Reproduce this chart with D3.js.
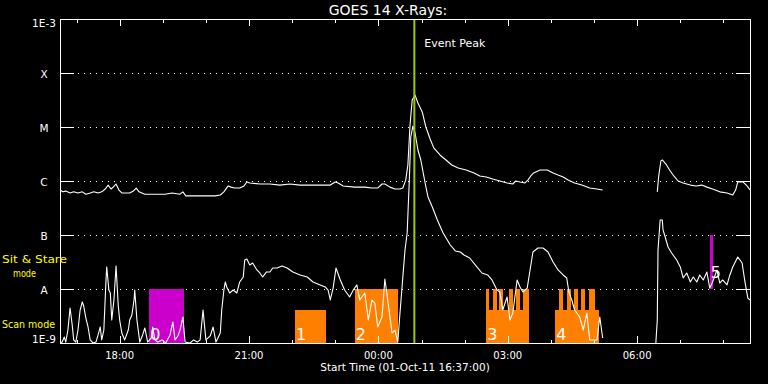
<!DOCTYPE html>
<html><head><meta charset="utf-8">
<script src="https://cdn.jsdelivr.net/npm/d3@7"></script>
<style>html,body{margin:0;padding:0;background:#000;} svg{display:block} text{-webkit-font-smoothing:antialiased;}</style>
</head><body>
<svg id="c" width="768" height="384"></svg>
<script>
// ---------- data ----------
const titleText = "GOES 14 X-Rays:";
const startLabel = "Start Time (01-Oct-11 16:37:00)";
const timeStart = "16:37";
const timeEnd = "08:37";
const fluxTicks = [1e-9, 1e-8, 1e-7, 1e-6, 1e-5, 1e-4, 1e-3];
const fluxTickLabels = ["1E-9", "A", "B", "C", "M", "X", "1E-3"];
const eventPeak = "00:50";
const eventLabel = "Event Peak";
const modeLabels = ["Sit & Stare", "mode", "Scan mode"];

// long channel (1-8 A), [time, flux W/m^2]; null = data gap
const longChannel = [
["16:37",6.8e-7],["16:41",6.3e-7],["16:45",6.5e-7],["16:51",6.0e-7],["16:56",6.3e-7],["17:02",6.0e-7],["17:08",6.3e-7],["17:13",5.7e-7],["17:19",6.0e-7],["17:24",6.3e-7],
["17:30",6.0e-7],["17:35",6.3e-7],["17:40",7.1e-7],["17:44",8.4e-7],["17:48",7.1e-7],["17:51",7.7e-7],["17:55",8.8e-7],["17:59",6.8e-7],["18:03",6.0e-7],["18:09",6.0e-7],
["18:14",6.0e-7],["18:19",6.5e-7],["18:23",7.4e-7],["18:27",6.3e-7],["18:35",5.7e-7],["18:49",5.7e-7],["19:03",5.7e-7],["19:13",6.0e-7],["19:24",5.7e-7],["19:28",6.3e-7],
["19:32",5.3e-7],["19:45",5.3e-7],["19:59",5.3e-7],["20:13",5.3e-7],["20:20",5.5e-7],["20:25",6.3e-7],["20:31",8.1e-7],["20:35",7.7e-7],["20:40",7.4e-7],["20:47",7.4e-7],
["20:53",8.1e-7],["20:57",9.6e-7],["21:01",9.2e-7],["21:15",8.8e-7],["21:29",8.8e-7],["21:43",8.4e-7],["21:57",8.8e-7],["22:11",8.4e-7],["22:25",8.4e-7],["22:39",8.4e-7],
["22:53",8.4e-7],["23:00",9.6e-7],["23:04",9.2e-7],["23:11",8.1e-7],["23:27",7.7e-7],["23:41",7.7e-7],["23:51",7.4e-7],["23:59",7.4e-7],["00:05",8.8e-7],["00:09",8.8e-7],
["00:16",7.7e-7],["00:23",7.1e-7],["00:30",7.1e-7],["00:34",7.4e-7],["00:38",1.04e-6],["00:41",1.98e-6],["00:44",1.09e-5],["00:47",3.16e-5],["00:51",3.9e-5],["00:55",2.78e-5],
["01:01",1.9e-5],["01:06",1.0e-5],["01:12",6.0e-6],["01:17",4.1e-6],["01:26",3.0e-6],["01:34",2.45e-6],["01:42",1.98e-6],["01:51",1.74e-6],["02:02",1.6e-6],["02:13",1.41e-6],
["02:21",1.24e-6],["02:30",1.19e-6],["02:39",1.09e-6],["02:49",1.0e-6],["02:59",9.2e-7],["03:07",8.8e-7],["03:11",1.0e-6],["03:17",9.6e-7],["03:24",9.2e-7],["03:28",1.04e-6],
["03:32",1.24e-6],["03:36",1.41e-6],["03:45",1.6e-6],["03:55",1.6e-6],["04:03",1.41e-6],["04:10",1.29e-6],["04:17",1.19e-6],["04:24",1.04e-6],["04:33",9.2e-7],["04:43",8.4e-7],
["04:54",7.4e-7],["05:04",7.1e-7],["05:12",6.8e-7],["05:50",null],["06:28",6.3e-7],["06:30",1.24e-6],["06:33",2.35e-6],["06:35",2.45e-6],["06:40",2.06e-6],["06:46",1.53e-6],
["06:51",1.24e-6],["06:57",1.0e-6],["07:04",9.2e-7],["07:14",8.4e-7],["07:22",8.1e-7],["07:30",8.4e-7],["07:37",7.7e-7],["07:45",7.1e-7],["07:55",6.3e-7],["08:05",6.0e-7],
["08:13",5.5e-7],["08:17",6.8e-7],["08:20",9.6e-7],["08:27",9.6e-7],["08:33",8.1e-7],["08:37",6.8e-7]
];

// short channel (0.5-4 A)
const shortChannel = [
["16:37",1.0e-9],["16:40",1.04e-9],["16:43",1.29e-9],["16:45",1.04e-9],["16:48",1.74e-9],["16:51",4.45e-9],["16:54",2.15e-9],["16:56",1.14e-9],["16:59",1.04e-9],["17:02",1.74e-9],
["17:05",4.08e-9],["17:08",5.75e-9],["17:10",4.84e-9],["17:13",2.9e-9],["17:16",1.98e-9],["17:19",1.14e-9],["17:23",1.0e-9],["17:27",1.04e-9],["17:30",1.41e-9],["17:33",1.98e-9],
["17:35",1.14e-9],["17:38",1.74e-9],["17:41",1.47e-8],["17:42",2.56e-8],["17:45",9.58e-9],["17:47",8.43e-9],["17:49",2.67e-9],["17:52",6.26e-9],["17:55",2.67e-8],["17:58",5.05e-9],
["18:00",2.67e-9],["18:03",1.53e-9],["18:07",1.14e-9],["18:12",1.74e-9],["18:14",2.67e-9],["18:17",3.3e-9],["18:20",6.26e-9],["18:21",9.58e-9],["18:24",2.67e-9],["18:28",1.04e-9],
["18:32",1.41e-9],["18:35",1.9e-9],["18:39",1.04e-9],["18:44",1.24e-9],["18:46",1.98e-9],["18:49",1.14e-9],["18:53",1.04e-9],["18:59",1.14e-9],["19:04",1.0e-9],["19:10",1.41e-9],
["19:14",2.45e-9],["19:17",1.14e-9],["19:21",1.35e-9],["19:24",1.74e-9],["19:28",3.03e-9],["19:31",1.04e-9],["19:38",1.0e-9],["19:43",1.14e-9],["19:48",1.04e-9],["19:52",1.14e-9],
["19:56",4.08e-9],["20:00",1.14e-9],["20:06",1.35e-9],["20:10",1.98e-9],["20:14",1.04e-9],["20:20",1.53e-9],["20:22",4.08e-9],["20:25",9.58e-9],["20:27",1.35e-8],["20:29",1.09e-8],
["20:33",8.43e-9],["20:38",9.58e-9],["20:43",8.43e-9],["20:47",1.35e-8],["20:52",1.67e-8],["20:54",3.44e-8],["20:57",3.59e-8],["21:01",2.78e-8],["21:05",3.03e-8],["21:11",2.25e-8],
["21:15",1.98e-8],["21:19",1.67e-8],["21:24",2.06e-8],["21:29",2.06e-8],["21:33",2.45e-8],["21:39",2.45e-8],["21:46",2.67e-8],["21:53",2.45e-8],["22:01",2.06e-8],["22:11",1.82e-8],
["22:21",1.67e-8],["22:29",1.35e-8],["22:39",1.19e-8],["22:46",1.09e-8],["22:50",9.58e-9],["22:53",6.26e-9],["22:57",1.04e-8],["23:01",2.45e-8],["23:07",1.47e-8],["23:13",9.58e-9],
["23:20",7.1e-9],["23:25",9.58e-9],["23:30",1.19e-8],["23:34",6.26e-9],["23:41",8.43e-9],["23:46",2.67e-9],["23:51",6.26e-9],["23:55",5.5e-9],["23:59",1.98e-9],["00:05",3.03e-9],
["00:09",1.53e-8],["00:13",6.26e-9],["00:19",1.53e-9],["00:23",1.74e-9],["00:27",1.04e-9],["00:30",3.59e-9],["00:34",1.67e-8],["00:37",5.28e-8],["00:40",1.09e-7],["00:43",1.04e-6],
["00:45",6.53e-6],["00:48",1.04e-5],["00:51",7.74e-6],["00:55",3.75e-6],["00:59",2.45e-6],["01:05",9.18e-7],["01:09",5.06e-7],["01:15",3.3e-7],["01:22",1.9e-7],["01:30",1.09e-7],
["01:40",6.53e-8],["01:47",5.06e-8],["01:54",4.84e-8],["01:59",4.26e-8],["02:07",3.75e-8],["02:17",2.56e-8],["02:24",1.98e-8],["02:32",1.82e-8],["02:38",1.47e-8],["02:45",9.58e-9],
["02:49",8.8e-9],["02:53",4.08e-9],["02:59",7.1e-9],["03:03",2.67e-9],["03:07",3.59e-9],["03:13",1.47e-8],["03:17",1.09e-8],["03:21",8.8e-9],["03:27",1.04e-8],["03:31",2.25e-8],
["03:35",4.84e-8],["03:42",5.75e-8],["03:49",5.75e-8],["03:56",4.84e-8],["04:03",3.16e-8],["04:10",2.25e-8],["04:17",1.82e-8],["04:22",1.6e-8],["04:25",8.8e-9],["04:29",6.26e-9],
["04:33",4.08e-9],["04:40",3.03e-9],["04:45",1.74e-9],["04:50",3.59e-9],["04:54",1.14e-9],["05:04",1.14e-9],["05:08",3.03e-9],["05:12",1.24e-9],["05:50",null],["06:26",1.0e-9],
["06:28",2.67e-9],["06:29",5.28e-8],["06:32",1.9e-7],["06:35",1.9e-7],["06:36",1.24e-7],["06:39",9.18e-8],["06:43",6.0e-8],["06:48",4.64e-8],["06:55",3.44e-8],["07:00",2.56e-8],
["07:04",1.6e-8],["07:09",1.98e-8],["07:14",1.35e-8],["07:18",1.67e-8],["07:23",1.35e-8],["07:27",1.82e-8],["07:32",1.47e-8],["07:37",2.06e-8],["07:41",1.04e-8],["07:45",1.35e-8],
["07:51",2.25e-8],["07:55",1.29e-8],["07:59",1.47e-8],["08:05",1.19e-8],["08:09",1.82e-8],["08:13",2.56e-8],["08:20",3.91e-8],["08:26",3.03e-8],["08:30",1.35e-8],["08:34",6.8e-9],
["08:37",6.26e-9]
];

// observing-mode blocks
const blockLabels = ["0", "1", "2", "3", "4", "5"];
const blockKinds  = ["sit", "scan", "scan", "scan", "scan", "sit"];
const blockStart  = ["18:41", "22:04", "23:27", "02:30", "04:06", "07:41"];
const blockEnd    = ["19:30", "22:47", "00:27", "03:30", "05:07", "07:45"];
const blockTop    = [1e-8, 4.1e-9, 1e-8, 4.1e-9, 4.1e-9, 1e-7];
const blockBase   = [1e-9, 1e-9, 1e-9, 1e-9, 1e-9, 1e-8];
// short high-level segments inside blocks 3 and 4
const toothStart = ["02:30","02:39","02:48","03:02","03:11","03:21","04:11","04:22","04:32","04:42","04:53"];
const toothEnd   = ["02:34","02:45","02:53","03:07","03:17","03:30","04:17","04:28","04:38","04:47","05:01"];
const toothTop = 1e-8;

// ---------- drawing ----------
const parseT = s => { const [h, m] = s.split(":").map(Number); return new Date(2011, 9, h < 12 ? 2 : 1, h, m); };
const L = 60, R = 750, T = 19, B = 343;
const font = "DejaVu Sans, sans-serif";
const svg = d3.select("#c");
svg.append("rect").attr("width", 768).attr("height", 384).attr("fill", "#000");

const x = d3.scaleTime().domain([parseT(timeStart), parseT(timeEnd)]).range([L, R]);
const y = d3.scaleLog().domain([1e-9, 1e-3]).range([B, T]);
const kindColor = d3.scaleOrdinal().domain(["sit", "scan"]).range(["#cc00cc", "#ff8000"]);

svg.append("defs").append("clipPath").attr("id", "plot")
  .append("rect").attr("x", L).attr("y", T).attr("width", R - L).attr("height", B - T);

// gridlines
svg.append("g").selectAll("line").data(fluxTicks.slice(1, -1)).join("line")
  .attr("x1", L).attr("x2", R)
  .attr("y1", d => Math.round(y(d)) + 0.5).attr("y2", d => Math.round(y(d)) + 0.5)
  .attr("stroke", "#fff").attr("stroke-dasharray", "1,5").attr("shape-rendering", "crispEdges");

// mode blocks
const gB = svg.append("g").attr("shape-rendering", "crispEdges");
blockLabels.forEach((lab, i) => {
  const x0 = x(parseT(blockStart[i])), x1 = x(parseT(blockEnd[i]));
  gB.append("rect").attr("x", x0).attr("width", Math.max(3, x1 - x0))
    .attr("y", y(blockTop[i])).attr("height", y(blockBase[i]) - y(blockTop[i]))
    .attr("fill", kindColor(blockKinds[i]));
});
toothStart.forEach((s, i) => {
  const x0 = x(parseT(s)), x1 = x(parseT(toothEnd[i]));
  gB.append("rect").attr("x", x0).attr("width", x1 - x0)
    .attr("y", y(toothTop)).attr("height", y(1e-9) - y(toothTop))
    .attr("fill", kindColor("scan"));
});

// curves
const line = d3.line().defined(d => d[1] != null)
  .x(d => x(parseT(d[0]))).y(d => y(d[1]));
const gC = svg.append("g").attr("clip-path", "url(#plot)");
[longChannel, shortChannel].forEach(ser => {
  gC.append("path").attr("d", line(ser)).attr("fill", "none")
    .attr("stroke", "#fff").attr("stroke-width", 1.1).attr("stroke-linejoin", "round");
});

// block labels (the short sit block gets its number near its middle)
blockLabels.forEach((lab, i) => {
  const yb = y(blockBase[i]), yt = y(blockTop[i]);
  const ly = blockBase[i] > 1e-9 ? yb - 11 : yb - 3;
  svg.append("text").attr("x", x(parseT(blockStart[i])) + 1).attr("y", ly)
    .attr("fill", "#fff").attr("font-family", font).attr("font-size", 16).text(lab);
});

// event peak
const xe = x(parseT(eventPeak));
svg.append("line").attr("x1", xe).attr("x2", xe).attr("y1", T).attr("y2", B)
  .attr("stroke", "#99cc00").attr("stroke-width", 2);
svg.append("text").attr("x", xe + 10).attr("y", 47).attr("fill", "#fff")
  .attr("font-family", font).attr("font-size", 11).text(eventLabel);

// axes box
const gA = svg.append("g").attr("stroke", "#fff").attr("shape-rendering", "crispEdges");
gA.append("rect").attr("x", L + 0.5).attr("y", T + 0.5).attr("width", R - L).attr("height", B - T).attr("fill", "none");
fluxTicks.forEach(v => {
  const yy = Math.round(y(v)) + 0.5;
  gA.append("line").attr("x1", L).attr("x2", L + 14).attr("y1", yy).attr("y2", yy);
  gA.append("line").attr("x1", R - 14).attr("x2", R).attr("y1", yy).attr("y2", yy);
});
const hours = x.ticks(d3.timeHour.every(1));
hours.forEach(h => {
  const xx = Math.round(x(h)) + 0.5;
  const len = h.getHours() % 3 === 0 ? 7 : 3.5;
  gA.append("line").attr("x1", xx).attr("x2", xx).attr("y1", B).attr("y2", B - len);
  gA.append("line").attr("x1", xx).attr("x2", xx).attr("y1", T).attr("y2", T + len);
});
const fmt = d3.timeFormat("%H:%M");
svg.append("g").selectAll("text").data(hours.filter(h => h.getHours() % 3 === 0)).join("text")
  .attr("x", d => x(d)).attr("y", 359).attr("text-anchor", "middle")
  .attr("fill", "#fff").attr("font-family", font).attr("font-size", 10).text(d => fmt(d));

// y labels
svg.append("g").selectAll("text").data(fluxTicks).join("text")
  .attr("x", 44).attr("y", d => Math.max(26.7, Math.min(343, y(d) + 4.7)))
  .attr("text-anchor", "middle").attr("fill", "#fff").attr("font-family", font).attr("font-size", 10.5)
  .text((d, i) => fluxTickLabels[i]);

// titles
svg.append("text").attr("x", 388).attr("y", 15).attr("text-anchor", "middle")
  .attr("fill", "#fff").attr("font-family", font).attr("font-size", 14).text(titleText);
svg.append("text").attr("x", (L + R) / 2).attr("y", 371).attr("text-anchor", "middle")
  .attr("fill", "#fff").attr("font-family", font).attr("font-size", 10.5).text(startLabel);

// mode labels
const yl = svg.append("g").attr("fill", "#ffff00").attr("font-family", font).attr("font-size", 10.5);
yl.append("text").attr("x", 2).attr("y", 263).attr("textLength", 65).attr("lengthAdjust", "spacingAndGlyphs").text(modeLabels[0]);
yl.append("text").attr("x", 13).attr("y", 276.5).attr("textLength", 23).attr("lengthAdjust", "spacingAndGlyphs").text(modeLabels[1]);
yl.append("text").attr("x", 2).attr("y", 328).attr("textLength", 53).attr("lengthAdjust", "spacingAndGlyphs").text(modeLabels[2]);
</script>
</body></html>
